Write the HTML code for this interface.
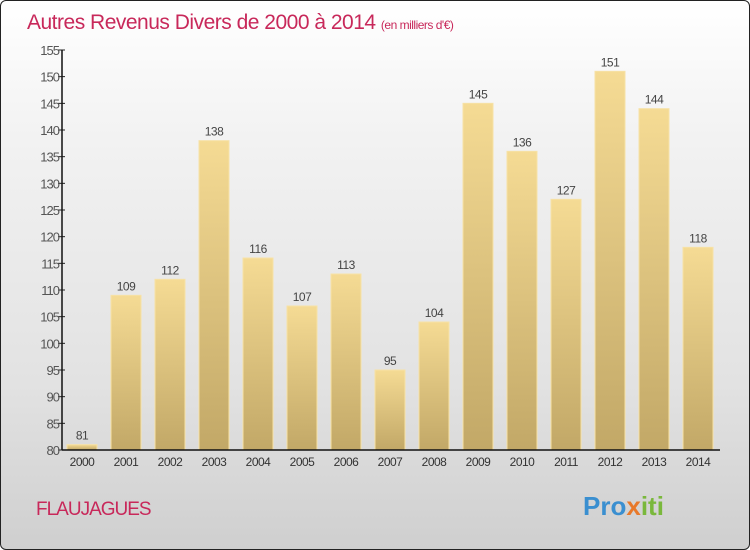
<!DOCTYPE html>
<html><head><meta charset="utf-8"><style>
html,body{margin:0;padding:0;}
body{width:750px;height:550px;overflow:hidden;font-family:"Liberation Sans",sans-serif;}
#frame{position:absolute;left:0;top:0;width:748px;height:548px;border:1px solid #222;border-radius:6px;background:linear-gradient(#ffffff,#f2f2f2 25%,#e2e2e2 70%,#cfcfcf);overflow:hidden;}
</style></head><body>
<div id="frame">
<svg id="chart" width="750" height="550" style="position:absolute;left:-1px;top:-1px">
<defs>
<linearGradient id="barg" x1="0" y1="0" x2="0" y2="1">
<stop offset="0" stop-color="#f5db94"/><stop offset="1" stop-color="#c2a867"/>
</linearGradient>
</defs>
<text x="27" y="29" font-size="21" fill="#c8285a" letter-spacing="-0.5">Autres Revenus Divers de 2000 à 2014 <tspan font-size="12">(en milliers d'€)</tspan></text>
<text x="36" y="515" font-size="19" fill="#c8285a" letter-spacing="-1">FLAUJAGUES</text>
<text x="583" y="515" font-size="26" font-weight="bold"><tspan fill="#3a8fd0">Pro</tspan><tspan fill="#e8792a">x</tspan><tspan fill="#7ab83c">iti</tspan></text>
<g id="plot"></g>
</svg>
</div>
<script>
const categories=["2000","2001","2002","2003","2004","2005","2006","2007","2008","2009","2010","2011","2012","2013","2014"];
const values=[81,109,112,138,116,107,113,95,104,145,136,127,151,144,118];
const ticks=[80,85,90,95,100,105,110,115,120,125,130,135,140,145,150,155];
const ns="http://www.w3.org/2000/svg";
const plotG=document.getElementById('plot');
const yMin=80,yMax=155,plotTop=50,plotBot=450,axisX=62;
const yS=v=>plotBot-(v-yMin)/(yMax-yMin)*(plotBot-plotTop);
const xS=i=>82+i*44;
function mk(t,a){const e=document.createElementNS(ns,t);for(const k in a)e.setAttribute(k,a[k]);plotG.appendChild(e);return e;}
ticks.forEach(t=>{
 const l=mk('line',{x1:axisX-4,x2:axisX+3,y1:yS(t),y2:yS(t),stroke:'#222'});
 
 
 const tx=mk('text',{x:axisX-3,y:yS(t)+5,'font-size':13,'text-anchor':'end',fill:'#555','letter-spacing':'-1'});
 tx.textContent=t;
 
 
});
values.forEach((v,i)=>{
 const r=mk('rect',{x:xS(i)-15,y:yS(v),width:30,height:plotBot-yS(v),fill:'url(#barg)',stroke:'#f7e2a6','stroke-width':1});
 
 
 const vl=mk('text',{x:xS(i),y:yS(v)-5,'font-size':12,'text-anchor':'middle',fill:'#444','letter-spacing':'-0.5'});
 vl.textContent=v;
 
 
 const xl=mk('text',{x:xS(i),y:plotBot+16,'font-size':12,'text-anchor':'middle',fill:'#333','letter-spacing':'-0.5'});
 xl.textContent=categories[i];
 
 
});
const ya=mk('line',{x1:axisX,x2:axisX,y1:plotTop,y2:plotBot,stroke:'#111','stroke-width':1.5});


const xa=mk('line',{x1:axisX,x2:720,y1:plotBot,y2:plotBot,stroke:'#111','stroke-width':1.5});


</script>
</body></html>
